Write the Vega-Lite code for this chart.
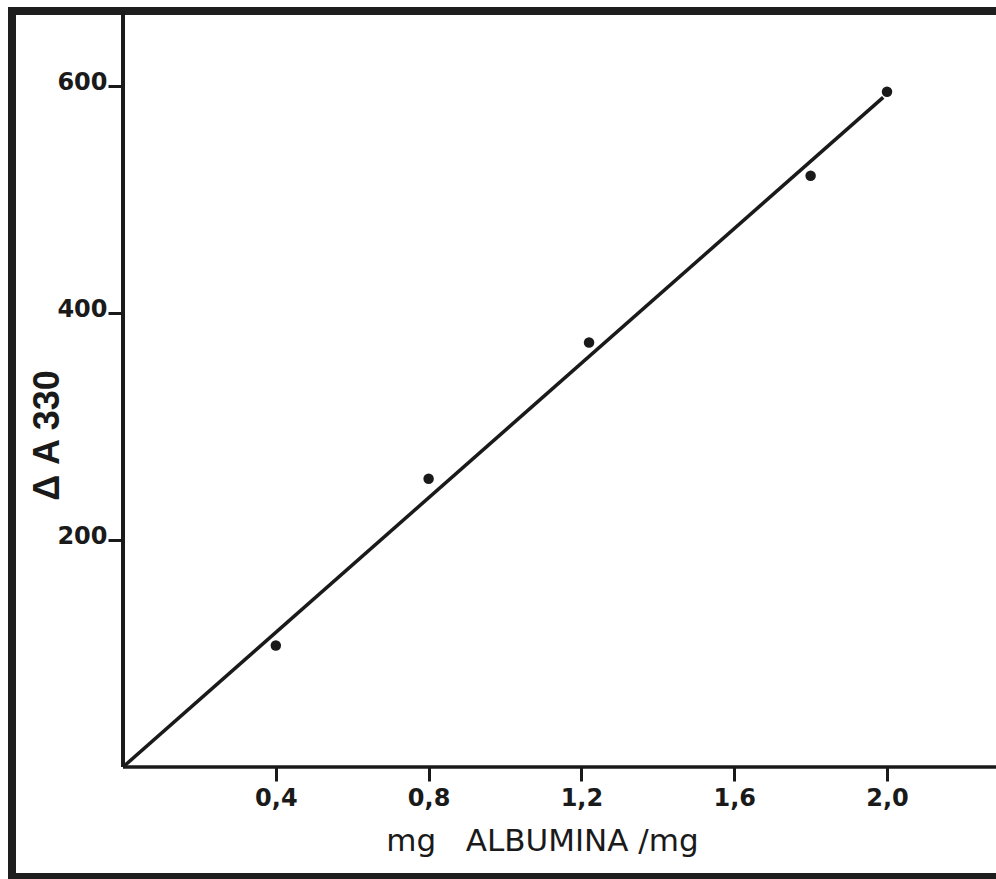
{
  "$schema": "https://vega.github.io/schema/vega-lite/v6.json",
  "autosize": {"type": "none"},
  "padding": {"left": 12, "top": 11, "right": 0, "bottom": 2},
  "width": 990,
  "height": 866,
  "background": "white",
  "config": {
    "view": {"stroke": "#1e1e1e", "strokeWidth": 8},
    "axis": {"grid": false, "domain": false, "tickColor": "#1a1a1a", "labelColor": "#1a1a1a", "titleColor": "#1a1a1a"}
  },
  "datasets": {
    "points": [
      {"albumina": 0.40, "dA330": 107},
      {"albumina": 0.80, "dA330": 254},
      {"albumina": 1.22, "dA330": 374},
      {"albumina": 1.80, "dA330": 521},
      {"albumina": 2.00, "dA330": 595}
    ],
    "fit": [
      {"albumina": 0, "dA330": 0},
      {"albumina": 1.99, "dA330": 590}
    ],
    "one": [{}]
  },
  "layer": [
    {
      "data": {"name": "one"},
      "mark": {"type": "rule", "color": "#1a1a1a", "strokeWidth": 4},
      "encoding": {
        "x": {"datum": 0, "type": "quantitative", "scale": {"domain": [-0.2906, 2.301], "nice": false, "zero": false}},
        "y": {"datum": 0, "type": "quantitative", "scale": {"domain": [-96.9, 666.1], "nice": false, "zero": false}},
        "y2": {"datum": 666.1}
      }
    },
    {
      "data": {"name": "one"},
      "mark": {"type": "rule", "color": "#1a1a1a", "strokeWidth": 3.5},
      "encoding": {
        "x": {"datum": 0, "type": "quantitative"},
        "x2": {"datum": 2.301},
        "y": {"datum": 0, "type": "quantitative"}
      }
    },
    {
      "data": {"name": "fit"},
      "mark": {"type": "line", "color": "#1a1a1a", "strokeWidth": 3.5},
      "encoding": {
        "x": {"field": "albumina", "type": "quantitative"},
        "y": {"field": "dA330", "type": "quantitative"}
      }
    },
    {
      "data": {"name": "points"},
      "mark": {"type": "point", "filled": true, "color": "#1a1a1a", "opacity": 1, "size": 110},
      "encoding": {
        "x": {
          "field": "albumina", "type": "quantitative",
          "axis": {
            "orient": "bottom", "offset": -110,
            "values": [0.4, 0.8, 1.2, 1.6, 2.0],
            "labelExpr": "replace(format(datum.value, '.1f'), '.', ',')",
            "tickSize": 14, "tickWidth": 3,
            "labelFont": "DejaVu Sans", "labelFontWeight": "bold", "labelFontSize": 24,
            "labelPadding": 5, "labelBaseline": "top",
            "title": "mg\u00a0\u00a0\u00a0ALBUMINA\u00a0/mg",
            "titleFont": "DejaVu Sans", "titleFontWeight": "normal", "titleFontSize": 31,
            "titleX": 530, "titleY": 83, "titleAlign": "center", "titleBaseline": "alphabetic", "titleAnchor": null
          }
        },
        "y": {
          "field": "dA330", "type": "quantitative",
          "axis": {
            "orient": "left", "offset": -111,
            "values": [200, 400, 600],
            "tickSize": 15, "tickWidth": 3,
            "labelFont": "DejaVu Sans", "labelFontWeight": "bold", "labelFontSize": 24,
            "labelPadding": 1, "labelAlign": "right", "labelBaseline": "alphabetic", "labelOffset": 3,
            "title": "Δ A  330",
            "titleFont": "Liberation Sans", "titleFontWeight": "bold", "titleFontSize": 36,
            "titleAngle": -90, "titleX": -65, "titleY": 424, "titleAlign": "center", "titleBaseline": "alphabetic"
          }
        }
      }
    }
  ]
}
